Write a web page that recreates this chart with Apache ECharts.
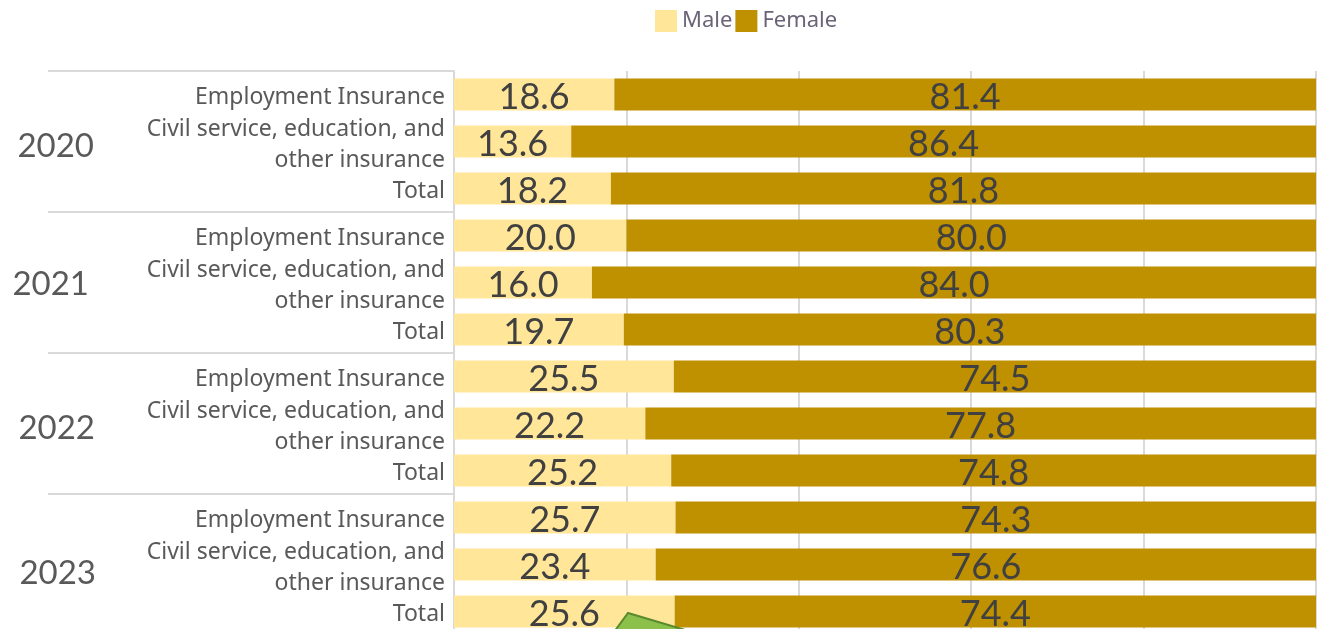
<!DOCTYPE html>
<html><head><meta charset="utf-8">
<script src="https://cdn.jsdelivr.net/npm/echarts@6/dist/echarts.min.js"></script>
<style>html,body{margin:0;padding:0;background:#fff}#c{width:1324px;height:629px}</style>
</head><body><div id="c"></div>
<script>
const years = ['2020', '2021', '2022', '2023'];
const subCategories = ['Employment Insurance', 'Civil service, education, and\nother insurance', 'Total'];
const male = [18.6, 13.6, 18.2, 20.0, 16.0, 19.7, 25.5, 22.2, 25.2, 25.7, 23.4, 25.6];
const female = [81.4, 86.4, 81.8, 80.0, 84.0, 80.3, 74.5, 77.8, 74.8, 74.3, 76.6, 74.4];
const xTicks = [0, 20, 40, 60, 80, 100];

const rowLabels = [];
years.forEach(() => subCategories.forEach(s => rowLabels.push(s)));

const FONT = 'Lato';
const TFONT = 'Noto Sans';
// small per-label nudges of the year labels (as placed in the original)
const yearNudge = [[10, 2], [4, 7], [10, 1], [18, 0]];
const yearRich = {};
yearNudge.forEach((n, i) => {
  yearRich['y' + i] = { fontSize: 33, color: '#595959', fontFamily: FONT, padding: [n[0], n[1], 0, 0] };
});

const chart = echarts.init(document.getElementById('c'));
chart.setOption({
  animation: false,
  textStyle: { fontFamily: FONT },
  legend: {
    top: 5, left: 650, itemWidth: 22, itemHeight: 22, itemGap: 3,
    icon: 'rect',
    textStyle: { fontSize: 22, color: '#6b6478', fontFamily: TFONT, padding: [0, 0, 0, 0] },
    data: ['Male', 'Female']
  },
  grid: { left: 454, right: 8, top: 71, height: 564, containLabel: false, outerBoundsMode: 'none' },
  xAxis: {
    type: 'value', min: xTicks[0], max: xTicks[xTicks.length - 1], interval: 20,
    axisLabel: { show: false }, axisLine: { show: false }, axisTick: { show: false },
    splitLine: { lineStyle: { color: '#d9d9d9', width: 2 } }
  },
  yAxis: [
    {
      type: 'category', inverse: true, data: rowLabels,
      axisLine: { show: true, lineStyle: { color: '#d9d9d9', width: 2 } },
      axisTick: { show: false },
      axisLabel: {
        margin: 9, align: 'right',
        formatter: v => '{s| }\n' + v.split('\n').map(l => '{a|' + l + '}').join('\n'),
        rich: {
          s: { fontSize: 1, lineHeight: 6 },
          a: { fontSize: 23, color: '#595959', lineHeight: 31, fontFamily: TFONT, align: 'right' }
        }
      }
    },
    {
      type: 'category', inverse: true, data: years, position: 'left',
      axisLine: { show: false },
      axisTick: { show: true, length: 406, lineStyle: { color: '#d9d9d9', width: 2 } },
      axisLabel: {
        margin: 358, fontSize: 33, color: '#595959', fontFamily: FONT,
        formatter: (v, i) => '{y' + i + '|' + v + '}', rich: yearRich
      }
    }
  ],
  series: [
    {
      name: 'Male', type: 'bar', stack: 's', data: male, barWidth: 32,
      itemStyle: { color: '#FFE699' },
      label: { show: true, position: 'inside', offset: [0, 3], formatter: p => p.value.toFixed(1), fontSize: 36, color: '#404040', fontFamily: FONT }
    },
    {
      name: 'Female', type: 'bar', stack: 's', data: female, barWidth: 32,
      itemStyle: { color: '#BF9000' },
      label: { show: true, position: 'inside', offset: [0, 3], formatter: p => p.value.toFixed(1), fontSize: 36, color: '#404040', fontFamily: FONT }
    }
  ],
  graphic: [{
    type: 'polygon', z: 100,
    shape: { points: [[614, 632], [628, 613], [692, 632]] },
    style: { fill: '#8BC04A', stroke: '#5A8A2E', lineWidth: 2 }
  }]
});
</script></body></html>
